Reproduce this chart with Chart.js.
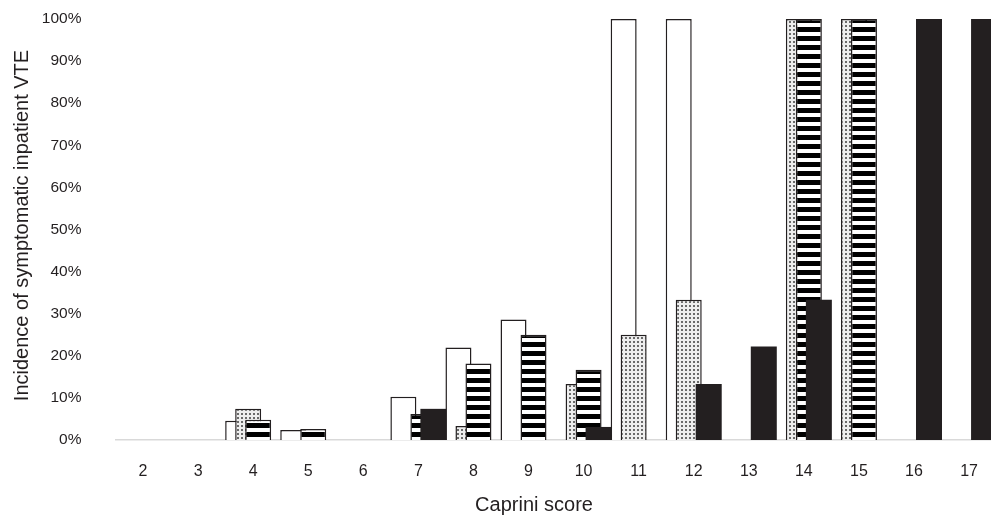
<!DOCTYPE html>
<html>
<head>
<meta charset="utf-8">
<script src="https://cdn.jsdelivr.net/npm/chart.js@4"></script>
<style>
  html, body { margin: 0; padding: 0; background: #fff; overflow: hidden; }
  #wrap { width: 1000px; height: 521px; }
</style>
</head>
<body>
<div id="wrap"><canvas id="c" width="1000" height="521"></canvas></div>
<script>
const categories = ['2','3','4','5','6','7','8','9','10','11','12','13','14','15','16','17'];
const seriesWhite   = [0, 0, 4.6, 2.4, 0, 10.3, 22.0, 28.6, 0, 100, 100, 0, 0, 0, 0, 0];
const seriesDotted  = [0, 0, 7.4, 0, 0, 0, 3.3, 0, 13.3, 25.0, 33.3, 0, 100, 100, 0, 0];
const seriesStriped = [0, 0, 4.8, 2.6, 0, 6.2, 18.2, 25.0, 16.7, 0, 0, 0, 100, 100, 0, 0];
const seriesBlack   = [0, 0, 0, 0, 0, 7.4, 0, 0, 3.1, 0, 13.3, 22.2, 33.3, 0, 100, 100];
const yTicks = [0, 10, 20, 30, 40, 50, 60, 70, 80, 90, 100];
const xTitle = 'Caprini score';
const yTitle = 'Incidence of symptomatic inpatient VTE';

const INK = '#231f20';
const FONT = 'Liberation Sans, Arial, sans-serif';

function makePattern(w, h, drawFn) {
  const cv = document.createElement('canvas');
  cv.width = w; cv.height = h;
  const g = cv.getContext('2d');
  drawFn(g);
  return document.getElementById('c').getContext('2d').createPattern(cv, 'repeat');
}
const dotPattern = makePattern(4, 4, g => {
  g.fillStyle = '#eeeeee'; g.fillRect(0, 0, 4, 4);
  g.fillStyle = '#6a6a6a'; g.fillRect(1, 1, 2, 2);
});
const stripePattern = makePattern(4, 9, g => {
  g.fillStyle = '#ffffff'; g.fillRect(0, 0, 4, 9);
  g.fillStyle = '#000000'; g.fillRect(0, 0, 4, 5);
});

const bw = ctx => (ctx.raw ? 1.5 : 0);

// draw datasets so that later series sit on top of earlier ones
const layerPlugin = {
  id: 'layer',
  beforeDatasetsDraw(chart) {
    const metas = chart.getSortedVisibleDatasetMetas().slice().sort((a, b) => a.index - b.index);
    for (const m of metas) m.controller.draw();
    return false;
  }
};

// axis titles
const titlePlugin = {
  id: 'axisTitles',
  afterDraw(chart) {
    const { ctx, chartArea } = chart;
    ctx.save();
    ctx.fillStyle = INK;
    ctx.font = '20px ' + FONT;
    ctx.textAlign = 'center';
    ctx.textBaseline = 'middle';
    ctx.fillText(xTitle, chartArea.left + chartArea.width * 0.475, 505);
    ctx.translate(22, (chartArea.top + chartArea.bottom) / 2 - 4);
    ctx.rotate(-Math.PI / 2);
    ctx.fillText(yTitle, 0, 0);
    ctx.restore();
  }
};

new Chart(document.getElementById('c'), {
  type: 'bar',
  data: {
    labels: categories,
    datasets: [
      { data: seriesWhite,   backgroundColor: '#ffffff',     borderColor: INK, borderWidth: bw, borderSkipped: 'start' },
      { data: seriesDotted,  backgroundColor: dotPattern,    borderColor: INK, borderWidth: bw, borderSkipped: 'start' },
      { data: seriesStriped, backgroundColor: stripePattern, borderColor: INK, borderWidth: bw, borderSkipped: 'start' },
      { data: seriesBlack,   backgroundColor: INK,           borderColor: INK, borderWidth: 0 }
    ]
  },
  options: {
    responsive: false,
    animation: false,
    devicePixelRatio: 1,
    categoryPercentage: 40 / 55.07,
    barPercentage: 2.6,
    layout: { autoPadding: false, padding: { top: 19, right: 3.4, left: 0, bottom: 0 } },
    plugins: { legend: { display: false }, tooltip: { enabled: false } },
    scales: {
      x: {
        grid: { display: false, drawTicks: false },
        border: { display: true, color: '#d9d9d9', width: 1.5 },
        ticks: { color: INK, padding: 22, font: { family: FONT, size: 16 }, maxRotation: 0 },
        afterFit(s) { s.height = 81; s.paddingLeft = 0; s.paddingRight = 0; }
      },
      y: {
        min: 0, max: 100,
        afterBuildTicks(s) { s.ticks = yTicks.map(v => ({ value: v })); },
        grid: { display: false, drawTicks: false },
        border: { display: false },
        ticks: { color: INK, padding: 34, font: { family: FONT, size: 15.5 }, callback: v => v + '%' },
        afterFit(s) { s.width = 115.5; s.paddingTop = 0; s.paddingBottom = 0; }
      }
    }
  },
  plugins: [layerPlugin, titlePlugin]
});
</script>
</body>
</html>
